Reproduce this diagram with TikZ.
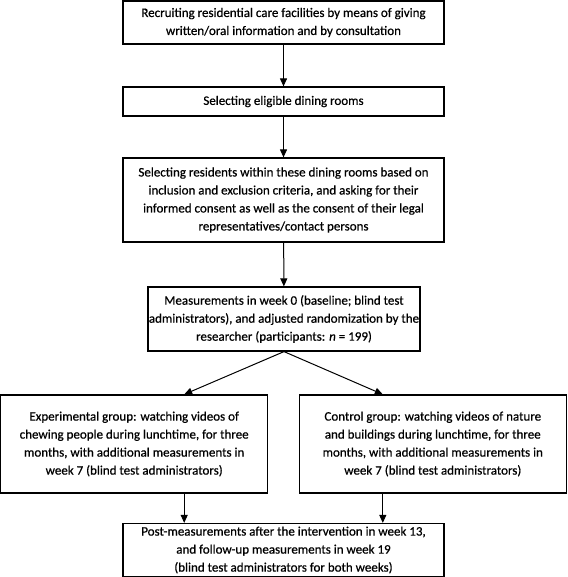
\documentclass[tikz,border=0pt]{standalone}
\usepackage{fontspec}
\setmainfont{Carlito}[FakeBold=0.6]
\usetikzlibrary{arrows.meta}
\begin{document}
\begin{tikzpicture}[x=1pt,y=-1pt,
 box/.style={draw, line width=1.2pt, align=center, inner sep=0pt, font=\fontsize{13}{18}\selectfont},
 arr/.style={-{Triangle[length=8pt,width=7pt]}, line width=1pt}]
\useasboundingbox (0,0) rectangle (567,577);
\node[box, minimum width=321pt, minimum height=43pt] (b1) at (283.5,22.5) {Recruiting residential care facilities by means of giving\\written/oral information and by consultation};
\node[box, minimum width=321pt, minimum height=29pt] (b2) at (283.5,101.5) {Selecting eligible dining rooms};
\node[box, minimum width=321pt, minimum height=84pt] (b3) at (283.5,200) {Selecting residents within these dining rooms based on\\inclusion and exclusion criteria, and asking for their\\informed consent as well as the consent of their legal\\representatives/contact persons};
\node[box, minimum width=272pt, minimum height=64pt] (b4) at (284,319) {Measurements in week 0 (baseline; blind test\\administrators), and adjusted randomization by the\\researcher (participants: \emph{n} = 199)};
\node[box, minimum width=267pt, minimum height=98pt] (b5) at (134.2,444) {Experimental group: watching videos of\\chewing people during lunchtime, for three\\months, with additional measurements in\\week 7 (blind test administrators)};
\node[box, minimum width=267pt, minimum height=98pt] (b6) at (432.8,444) {Control group: watching videos of nature\\and buildings during lunchtime, for three\\months, with additional measurements in\\week 7 (blind test administrators)};
\node[box, minimum width=321pt, minimum height=53pt] (b7) at (283.5,550) {Post-measurements after the intervention in week 13,\\and follow-up measurements in week 19\\(blind test administrators for both weeks)};
\draw[arr] (b1) -- (b2);
\draw[arr] (b2) -- (b3);
\draw[arr] (b3) -- (b4);
\draw[arr] (b4.south) -- ([xshift=50pt]b5.north);
\draw[arr] (b4.south) -- ([xshift=-50pt]b6.north);
\draw[arr] ([xshift=50pt]b5.south) -- ([xshift=50pt]b5.south |- b7.north);
\draw[arr] ([xshift=-50pt]b6.south) -- ([xshift=-50pt]b6.south |- b7.north);
\end{tikzpicture}
\end{document}
